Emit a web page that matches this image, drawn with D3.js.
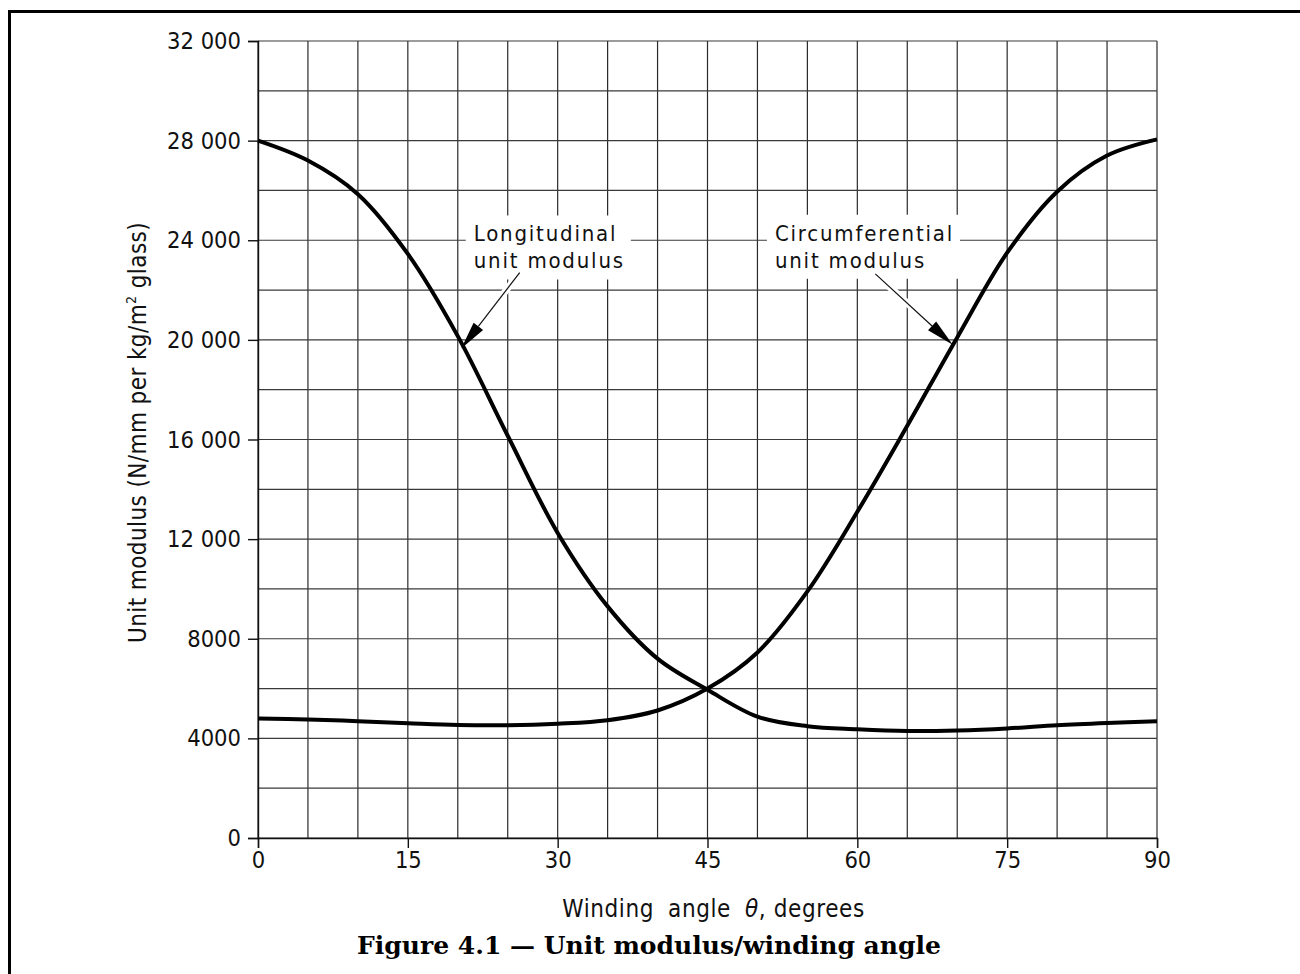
<!DOCTYPE html>
<html>
<head>
<meta charset="utf-8">
<script src="https://cdn.jsdelivr.net/npm/d3@7"></script>
<style>
  html, body { margin: 0; padding: 0; background: #fff; }
  svg { display: block; }
  .iso { font-family: "DejaVu Sans Condensed", "DejaVu Sans", sans-serif; fill: #111; }
  .caption { font-family: "DejaVu Serif", "Liberation Serif", serif; font-weight: bold; fill: #000; }
</style>
</head>
<body>
<svg id="chart" width="1300" height="974"></svg>
<script>
// Winding angle (degrees) at which the curves are sampled
const angles = [0, 5, 10, 15, 20, 25, 30, 35, 40, 45, 50, 55, 60, 65, 70, 75, 80, 85, 90];
// Longitudinal unit modulus, N/mm per kg/m² glass
const longitudinal = [28000, 27200, 25850, 23450, 20150, 16150, 12250, 9300, 7200, 5950, 4870, 4490, 4370, 4300, 4320, 4400, 4530, 4620, 4690];
// Circumferential unit modulus, N/mm per kg/m² glass
const circumferential = [4800, 4760, 4690, 4610, 4540, 4530, 4590, 4730, 5120, 6000, 7450, 9900, 13100, 16550, 20100, 23500, 25950, 27400, 28050];

const xTicks = [0, 15, 30, 45, 60, 75, 90];
const yTicks = [0, 4000, 8000, 12000, 16000, 20000, 24000, 28000, 32000];
const yTickLabels = ["0", "4000", "8000", "12 000", "16 000", "20 000", "24 000", "28 000", "32 000"];
const xGrid = d3.range(0, 91, 5);
const yGrid = d3.range(0, 32001, 2000);

// Callout labels: text lines, text anchor point and arrow (from, tip) in data units
const calloutNames = ["Longitudinal", "Circumferential"];
const calloutLines = [["Longitudinal", "unit modulus"], ["Circumferential", "unit modulus"]];
const calloutText = [[21.6, 23950], [51.75, 23980]];
const calloutFrom = [[26.2, 22700], [61.8, 22650]];
const calloutTip = [[20.35, 19650], [69.55, 19800]];

const svg = d3.select("#chart");

const x = d3.scaleLinear().domain([0, 90]).range([258, 1157]);
const y = d3.scaleLinear().domain([0, 32000]).range([838, 41]);

// page frame
svg.append("path")
  .attr("d", "M9.5,974 V11.5 H1300")
  .attr("fill", "none").attr("stroke", "#000").attr("stroke-width", 3);

// grid
const grid = svg.append("g").attr("stroke", "#2a2a2a").attr("stroke-width", 1.2).attr("fill", "none");
grid.selectAll("line.v").data(xGrid).join("line")
  .attr("class", "v")
  .attr("x1", d => x(d)).attr("x2", d => x(d))
  .attr("y1", y(0)).attr("y2", y(32000));
grid.selectAll("line.h").data(yGrid).join("line")
  .attr("class", "h")
  .attr("x1", x(0)).attr("x2", x(90))
  .attr("y1", d => y(d)).attr("y2", d => y(d))
  .attr("stroke", "#3a3a3a");

// axes
const yAxis = d3.axisLeft(y).tickValues(yTicks)
  .tickFormat((d, i) => yTickLabels[i]).tickSize(10).tickPadding(7);
const gy = svg.append("g").attr("transform", `translate(${x(0)},0)`).call(yAxis);
gy.select(".domain").attr("stroke", "#111").attr("stroke-width", 1.4);
gy.selectAll(".tick line").attr("stroke", "#111").attr("stroke-width", 1.4);
gy.selectAll(".tick text").attr("class", "iso").attr("font-size", 23.5).attr("fill", "#111");

const xAxis = d3.axisBottom(x).tickValues(xTicks).tickSize(10).tickPadding(3);
const gx = svg.append("g").attr("transform", `translate(0,${y(0)})`).call(xAxis);
gx.select(".domain").attr("stroke", "#111").attr("stroke-width", 1.4);
gx.selectAll(".tick line").attr("stroke", "#111").attr("stroke-width", 1.4);
gx.selectAll(".tick text").attr("class", "iso").attr("font-size", 23.5).attr("fill", "#111");
svg.selectAll(".tick text").style("font-family", '"DejaVu Sans Condensed", "DejaVu Sans", sans-serif');

// callouts (white backing over the grid, then leader and arrowhead)
const callG = svg.append("g");
calloutNames.forEach((name, i) => {
  const g = callG.append("g").attr("class", "callout");
  const t = g.append("text").attr("class", "iso").attr("font-size", 22)
    .attr("letter-spacing", 1.8)
    .attr("x", x(calloutText[i][0])).attr("y", y(calloutText[i][1]));
  calloutLines[i].forEach((ln, k) => {
    t.append("tspan").attr("x", x(calloutText[i][0])).attr("dy", k === 0 ? 0 : 27).text(ln);
  });
  const bb = t.node().getBBox();
  g.insert("rect", "text")
    .attr("x", bb.x - 8).attr("y", bb.y - 6)
    .attr("width", bb.width + 14).attr("height", bb.height + 12)
    .attr("fill", "#fff");

  const fx = x(calloutFrom[i][0]), fy = y(calloutFrom[i][1]);
  const tx = x(calloutTip[i][0]), ty = y(calloutTip[i][1]);
  const ang = Math.atan2(ty - fy, tx - fx);
  const len = 28, half = 6;
  const bx = tx - len * Math.cos(ang), by = ty - len * Math.sin(ang);
  // halo cut through the grid along the leader
  g.append("line").attr("x1", fx).attr("y1", fy).attr("x2", bx).attr("y2", by)
    .attr("stroke", "#fff").attr("stroke-width", 7);
  g.append("line").attr("x1", fx).attr("y1", fy).attr("x2", bx).attr("y2", by)
    .attr("stroke", "#111").attr("stroke-width", 1.2);
  const px = -Math.sin(ang), py = Math.cos(ang);
  g.append("path")
    .attr("d", `M${tx},${ty} L${bx + px * half},${by + py * half} L${bx - px * half},${by - py * half} Z`)
    .attr("fill", "#000");
});

// curves
const line = d3.line()
  .x((d, i) => x(angles[i]))
  .y(d => y(d))
  .curve(d3.curveCatmullRom.alpha(0.5));

[longitudinal, circumferential].forEach(series => {
  svg.append("path")
    .datum(series)
    .attr("d", line)
    .attr("fill", "none")
    .attr("stroke", "#000")
    .attr("stroke-width", 4)
    .attr("stroke-linejoin", "round");
});

// axis titles
const yTitle = svg.append("text").attr("class", "iso").attr("font-size", 24)
  .attr("letter-spacing", 0.4)
  .attr("text-anchor", "middle")
  .attr("transform", `translate(146,${(y(0) + y(32000)) / 2 - 7}) rotate(-90)`);
yTitle.append("tspan").text("Unit modulus (N/mm per kg/m");
yTitle.append("tspan").attr("font-size", 14).attr("dy", -10).text("2");
yTitle.append("tspan").attr("dy", 10).text(" glass)");

const xTitle = svg.append("text").attr("class", "iso").attr("font-size", 24)
  .attr("letter-spacing", 0.6)
  .attr("text-anchor", "middle")
  .attr("x", (x(0) + x(90)) / 2 + 6).attr("y", 917);
xTitle.append("tspan").text("Winding");
xTitle.append("tspan").attr("dx", 14).text("angle");
xTitle.append("tspan").attr("dx", 14).attr("font-style", "italic").text("θ");
xTitle.append("tspan").text(", degrees");

// figure caption
svg.append("text").attr("class", "caption").attr("font-size", 25)
  .attr("text-anchor", "middle")
  .attr("x", 649).attr("y", 954)
  .text("Figure 4.1 — Unit modulus/winding angle");
</script>
</body>
</html>
